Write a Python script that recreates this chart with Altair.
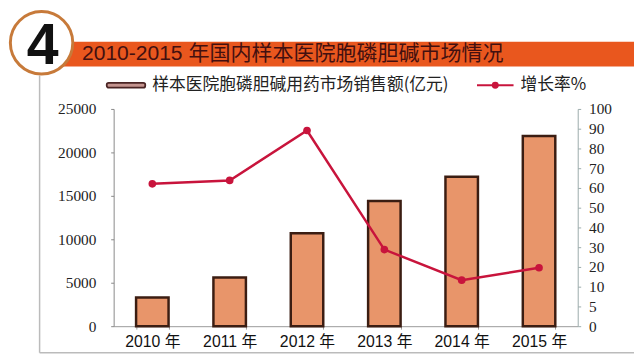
import altair as alt
import pandas as pd

# ---- data ----
years = ["2010 年", "2011 年", "2012 年", "2013 年", "2014 年", "2015 年"]
sales = [3300, 5600, 10700, 14400, 17200, 21900]          # 样本医院胞磷胆碱用药市场销售额(亿元)
growth = [62.1, 63.8, 89.1, 28.8, 13.3, 19.6]            # 增长率% (as read on the right axis labels)
left_ticks = [0, 5000, 10000, 15000, 20000, 25000]
# right axis in the original: evenly spaced labels 0,5,10,20,...,100
right_positions = [0, 10, 20, 30, 40, 50, 60, 70, 80, 90, 100, 110]

title_text = "2010-2015 年国内样本医院胞磷胆碱市场情况"
legend_bar = "样本医院胞磷胆碱用药市场销售额(亿元)"
legend_line = "增长率%"

df = pd.DataFrame({"year": years, "sales": sales, "growth": growth})

W, H = 470, 220
ORANGE = "#e9571e"
LINE = "#c8143c"
BAR = "#e8956a"
SANS = "Liberation Sans, Noto Sans CJK SC, sans-serif"
CJK = "Noto Sans CJK SC, sans-serif"

xenc = alt.X("year:N", sort=years, title=None,
             scale=alt.Scale(paddingInner=0.58, paddingOuter=0.29),
             axis=alt.Axis(labelAngle=0, labelFont=SANS, labelFontSize=16,
                           labelColor="#111", domainColor="#999", tickColor="#999",
                           tickSize=3, tickBand="extent", labelPadding=5))

bars = alt.Chart(df).mark_bar(color=BAR, stroke="#3b1d12", strokeWidth=2.5).encode(
    x=xenc,
    y=alt.Y("sales:Q", title=None,
            scale=alt.Scale(domain=[0, 25000], nice=False),
            axis=alt.Axis(values=left_ticks, format="d", grid=False, labelFont="Liberation Serif",
                          labelFontSize=15.5, labelColor="#222", domainColor="#888",
                          tickColor="#888", tickSize=3, labelPadding=15, orient="left")),
)

line = alt.Chart(df).transform_calculate(
    pos="datum.growth < 10 ? datum.growth * 2 : datum.growth + 10"
).mark_line(color=LINE, strokeWidth=2.5, point=alt.OverlayMarkDef(color=LINE, size=60, filled=True)).encode(
    x=alt.X("year:N", sort=years),
    y=alt.Y("pos:Q", title=None,
            scale=alt.Scale(domain=[0, 110], nice=False),
            axis=alt.Axis(values=right_positions, orient="right", grid=False,
                          labelExpr="datum.value <= 10 ? datum.value / 2 : datum.value - 10",
                          labelFont="Liberation Serif", labelFontSize=15.5, labelColor="#222",
                          domainColor="#9aabab", tickColor="#9aabab", tickSize=3, labelPadding=8)),
)

one = alt.Data(values=[{}])

frame_v = alt.Chart(one).mark_rule(color="#bbbbbb", strokeWidth=1.5).encode(
    x=alt.value(-75), y=alt.value(-34), y2=alt.value(247))
frame_h = alt.Chart(one).mark_rule(color="#bbbbbb", strokeWidth=1.5).encode(
    x=alt.value(-75), x2=alt.value(527), y=alt.value(247))
band = alt.Chart(one).mark_rect(color=ORANGE).encode(
    x=alt.value(-53), x2=alt.value(527), y=alt.value(-68), y2=alt.value(-43))
title = alt.Chart(one).mark_text(text=title_text, align="left", baseline="middle",
                                 font=SANS, fontSize=21.3, color="#431010").encode(
    x=alt.value(-32), y=alt.value(-56))
circle = alt.Chart(one).mark_point(shape="circle", filled=False, fill="white", fillOpacity=1,
                                   stroke="#c77a3a", strokeWidth=3, size=4000, opacity=1).encode(
    x=alt.value(-73), y=alt.value(-67))
four = alt.Chart(one).mark_text(text="4", align="center", baseline="alphabetic", font="Liberation Sans",
                                fontWeight="bold", fontSize=58, color="#111").encode(
    x=alt.value(-72), y=alt.value(-46))

leg_rect = alt.Chart(one).mark_rect(fill="#c4948f", stroke="#4a2424", strokeWidth=1.8,
                                    cornerRadius=2).encode(
    x=alt.value(-7), x2=alt.value(32), y=alt.value(-26.5), y2=alt.value(-21.5))
leg_text1 = alt.Chart(one).mark_text(text=legend_bar, align="left", baseline="middle",
                                     font=CJK, fontSize=17, color="#222").encode(
    x=alt.value(39), y=alt.value(-24))
leg_line = alt.Chart(one).mark_rule(color=LINE, strokeWidth=2).encode(
    x=alt.value(368), x2=alt.value(405), y=alt.value(-24))
leg_dot = alt.Chart(one).mark_point(shape="circle", filled=True, color=LINE, size=50, opacity=1).encode(
    x=alt.value(386.5), y=alt.value(-24))
leg_text2 = alt.Chart(one).mark_text(text=legend_line, align="left", baseline="middle",
                                     font=CJK, fontSize=17, color="#222").encode(
    x=alt.value(412), y=alt.value(-24))

chart = alt.layer(
    bars, line, frame_v, frame_h, band, title, circle, four,
    leg_rect, leg_text1, leg_line, leg_dot, leg_text2
).resolve_scale(y="independent").properties(
    width=W, height=H,
    autosize=alt.AutoSizeParams(type="none"),
    padding={"left": 107, "top": 100, "right": 57, "bottom": 32},
    background="white",
).configure_view(stroke=None)

chart.save("out.html", embed_options={"renderer": "svg", "actions": False})
